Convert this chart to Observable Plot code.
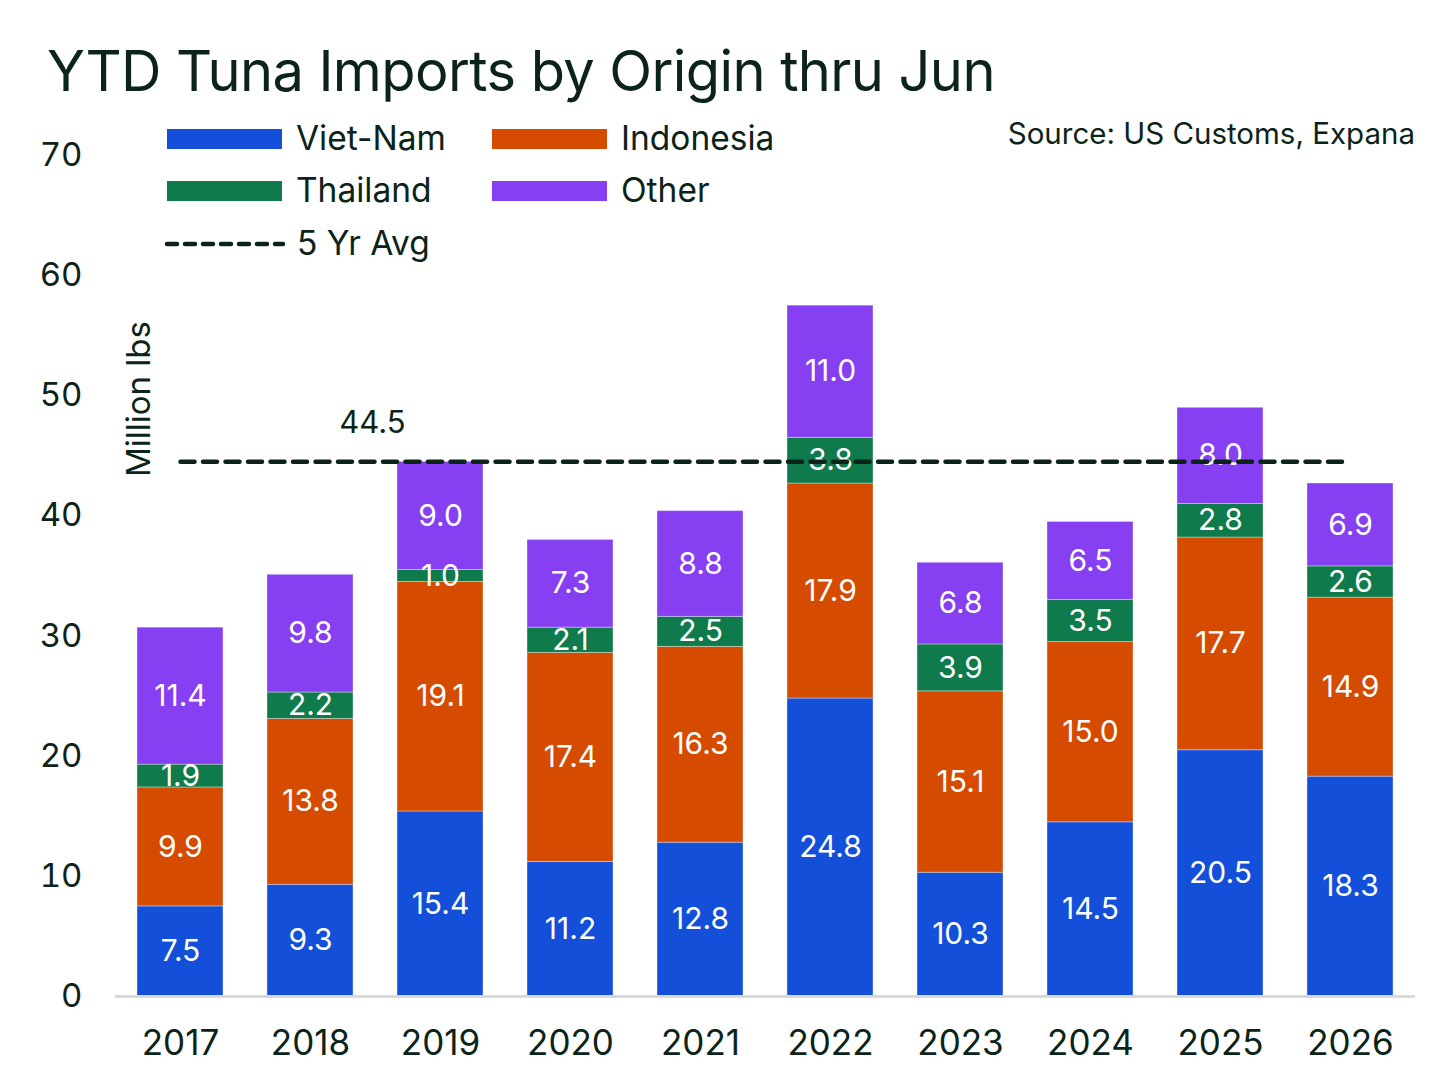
<!DOCTYPE html>
<html>
<head>
<meta charset="utf-8">
<script src="https://cdn.jsdelivr.net/npm/d3@7"></script>
<script src="https://cdn.jsdelivr.net/npm/@observablehq/plot@0.6"></script>
<style>
  html, body { margin: 0; padding: 0; background: #fff; }
  body { width: 1456px; height: 1088px; position: relative; overflow: hidden; font-family: Inter, "Noto Sans", sans-serif; color: #0b2318; }
  #title { position: absolute; left: 47px; top: 43px; font-size: 56px; line-height: 1; letter-spacing: -0.6px; white-space: nowrap; z-index: 2; }
  #source { position: absolute; right: 41px; top: 115px; font-size: 29.5px; white-space: nowrap; z-index: 2; }
  #chart { position: absolute; left: 0; top: 110px; z-index: 1; }
  #legend { position: absolute; left: 0; top: 0; z-index: 2; }
  .leg { position: absolute; font-size: 33.5px; line-height: 1; white-space: nowrap; display: flex; align-items: center; }
  .sw { display: inline-block; width: 115px; height: 20px; margin-right: 14px; }
  #ylabel { position: absolute; left: 138px; top: 399px; font-size: 33px; white-space: nowrap; transform: translate(-50%, -50%) rotate(-90deg); z-index: 2; }
</style>
</head>
<body>
<div id="title"></div>
<div id="source"></div>
<div id="chart"></div>
<div id="legend"></div>
<div id="ylabel"></div>
<script>
const years = ["2017","2018","2019","2020","2021","2022","2023","2024","2025","2026"];
const origins = ["Viet-Nam","Indonesia","Thailand","Other"];
const colors = ["#134fd9","#d54b00","#0f7a4b","#8640f2"];
const vietNam   = [7.5, 9.3, 15.4, 11.2, 12.8, 24.8, 10.3, 14.5, 20.5, 18.3];
const indonesia = [9.9, 13.8, 19.1, 17.4, 16.3, 17.9, 15.1, 15.0, 17.7, 14.9];
const thailand  = [1.9, 2.2, 1.0, 2.1, 2.5, 3.8, 3.9, 3.5, 2.8, 2.6];
const other     = [11.4, 9.8, 9.0, 7.3, 8.8, 11.0, 6.8, 6.5, 8.0, 6.9];
const fiveYrAvg = 44.5;
const yTicks = [0, 10, 20, 30, 40, 50, 60, 70];
const titleText = "YTD Tuna Imports by Origin thru Jun";
const sourceText = "Source: US Customs, Expana";
const yLabelText = "Million lbs";
const avgLegendText = "5 Yr Avg";

const series = [vietNam, indonesia, thailand, other];
const data = [];
years.forEach((yr, i) => origins.forEach((o, j) => data.push({year: yr, origin: o, value: series[j][i]})));

document.getElementById("title").textContent = titleText;
document.getElementById("source").textContent = sourceText;
document.getElementById("ylabel").textContent = yLabelText;

const ink = "#0b2318";
const chart = Plot.plot({
  width: 1456,
  height: 978,
  marginTop: 45,
  marginBottom: 92,
  marginLeft: 115,
  marginRight: 41,
  style: {fontFamily: "Inter, 'Noto Sans', sans-serif", color: ink, background: "transparent"},
  x: {domain: years, paddingInner: 0.34, paddingOuter: 0.17, label: null},
  y: {domain: [0, 70], label: null},
  color: {domain: origins, range: colors},
  marks: [
    Plot.axisY({ticks: yTicks, tickSize: 0, tickPadding: 33, fontSize: 33, label: null, tickFormat: d => d}),
    Plot.axisX({tickSize: 0, tickPadding: 34, fontSize: 35, label: null}),
    Plot.barY(data, {x: "year", y: "value", fill: "origin", order: origins, stroke: "#ffffff", strokeOpacity: 0.35, strokeWidth: 1}),
    Plot.ruleY([0], {stroke: "#d9d9d9", strokeWidth: 3}),
    Plot.text(data, Plot.stackY({x: "year", y: "value", z: "origin", order: origins, text: d => d.value.toFixed(1), fill: "white", fontSize: 30})),
    Plot.lineY(years, {x: d => d, y: () => fiveYrAvg, stroke: ink, strokeWidth: 4.5, strokeDasharray: "14 8.5", strokeLinecap: "round"}),
    Plot.text([fiveYrAvg], {x: () => years[1], y: d => d, text: d => d.toFixed(1), dx: 62, dy: -39, fontSize: 31, fill: ink})
  ]
});
document.getElementById("chart").appendChild(chart);

// Legend
const legend = document.getElementById("legend");
const legItems = [
  {label: origins[0], color: colors[0], left: 167, top: 139},
  {label: origins[1], color: colors[1], left: 492, top: 139},
  {label: origins[2], color: colors[2], left: 167, top: 191},
  {label: origins[3], color: colors[3], left: 492, top: 191}
];
legItems.forEach(it => {
  const d = document.createElement("div");
  d.className = "leg";
  d.style.left = it.left + "px";
  d.style.top = (it.top - 16) + "px";
  d.style.height = "32px";
  const s = document.createElement("span");
  s.className = "sw";
  s.style.background = it.color;
  d.appendChild(s);
  d.appendChild(document.createTextNode(it.label));
  legend.appendChild(d);
});
const dl = document.createElement("div");
dl.className = "leg";
dl.style.left = "163px";
dl.style.top = (244 - 16) + "px";
dl.style.height = "32px";
dl.innerHTML = '<svg width="124" height="10" style="margin-right:10px"><line x1="4" y1="5" x2="120" y2="5" stroke="' + ink + '" stroke-width="4.5" stroke-dasharray="10 8" stroke-linecap="round"/></svg>';
dl.appendChild(document.createTextNode(avgLegendText));
legend.appendChild(dl);
</script>
</body>
</html>
